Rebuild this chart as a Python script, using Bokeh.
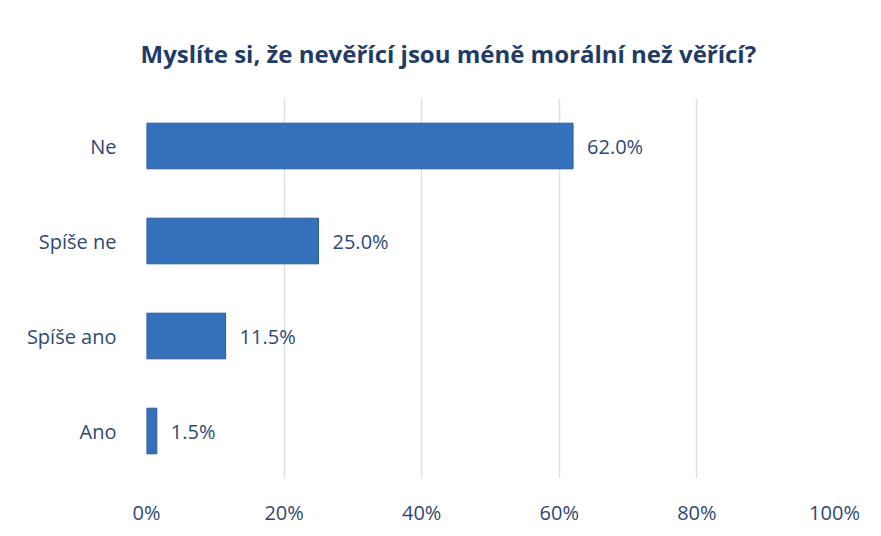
from bokeh.plotting import figure
from bokeh.models import ColumnDataSource, FixedTicker, Title, LabelSet, CustomJSTickFormatter
from bokeh.core.properties import value
from bokeh.embed import file_html
from bokeh.resources import INLINE

categories = ["Ne", "Spíše ne", "Spíše ano", "Ano"]
values = [62.0, 25.0, 11.5, 1.5]
x_ticks = [0, 20, 40, 60, 80, 100]
title_text = "Myslíte si, že nevěřící jsou méně morální než věřící?"

FONT = "Open Sans"
TXT = "#2E4A72"

src = ColumnDataSource(dict(
    cat=categories,
    val=values,
    lbl=[f"{v:.1f}%" for v in values],
))

p = figure(width=865, height=528, y_range=list(reversed(categories)), x_range=(0, 100),
           output_backend="svg", toolbar_location=None,
           min_border_left=146, min_border_right=31, min_border_top=98, min_border_bottom=42)

t = Title(text=title_text, align="left", text_font=FONT, text_font_size="24px",
          text_font_style="bold", text_color="#1F3B66", offset=-6, standoff=58)
p.add_layout(t, "above")

p.hbar(y="cat", right="val", left=0, height=0.48, source=src,
       fill_color="#3570BA", line_color="#2C5B9A", line_width=1)

labels = LabelSet(x="val", y="cat", text="lbl", source=src, x_offset=14, y_offset=0,
                  text_baseline="middle", text_font=value(FONT), text_font_size="20px",
                  text_color=TXT)
p.add_layout(labels)

p.xaxis.ticker = FixedTicker(ticks=x_ticks)
p.xaxis.formatter = CustomJSTickFormatter(code="return tick + '%';")
p.xaxis.axis_line_color = None
p.xaxis.major_tick_line_color = None
p.xaxis.minor_tick_line_color = None
p.xaxis.major_label_standoff = 14
p.xaxis.major_label_text_font = FONT
p.xaxis.major_label_text_font_size = "20px"
p.xaxis.major_label_text_color = TXT

p.yaxis.axis_line_color = None
p.yaxis.major_tick_line_color = None
p.yaxis.minor_tick_line_color = None
p.yaxis.major_label_standoff = 24
p.yaxis.major_label_text_font = FONT
p.yaxis.major_label_text_font_size = "20px"
p.yaxis.major_label_text_color = TXT

p.xgrid.grid_line_color = "#D6E2F2"
p.xgrid.grid_line_width = 1.5
p.ygrid.grid_line_color = None
p.outline_line_color = None
p.background_fill_color = "white"
p.border_fill_color = "white"

open("out.html", "w").write(file_html(p, INLINE))
